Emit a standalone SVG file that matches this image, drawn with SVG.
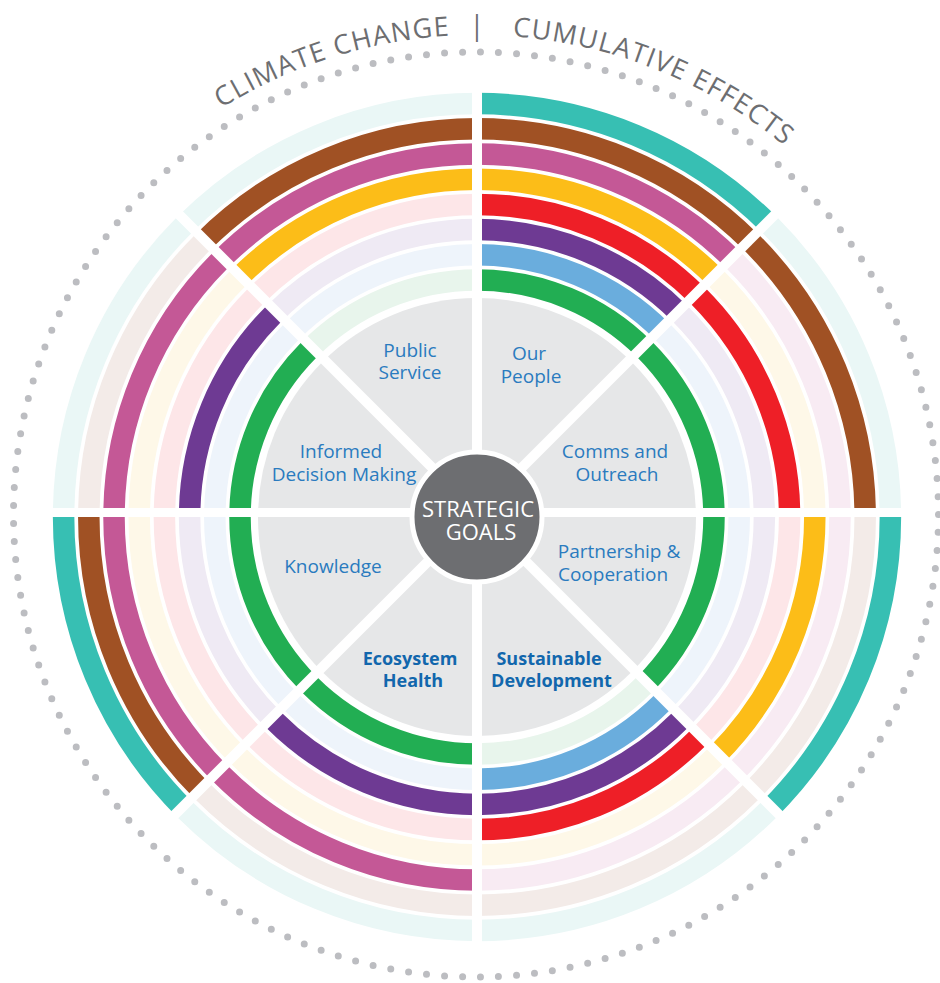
<svg xmlns="http://www.w3.org/2000/svg" width="940" height="983" viewBox="0 0 940 983">
<style>
.band{fill:none;stroke-width:21.5}
.g{stroke:#22ae53}.gp{stroke:#e8f5ec}
.b{stroke:#6aaddd}.bp{stroke:#eef4fb}
.pu{stroke:#6e3a93}.pup{stroke:#efeaf4}
.r{stroke:#ee1f27}.rp{stroke:#fde6e8}
.y{stroke:#fcbd18}.yp{stroke:#fef8e8}
.pk{stroke:#c45896}.pkp{stroke:#f8ebf3}
.br{stroke:#a05124}.brp{stroke:#f3ebe8}
.t{stroke:#37bfb3}.tp{stroke:#eaf7f6}
.wedge{fill:#e6e7e8}
.lbl{font-family:"Open Sans","Liberation Sans",sans-serif;font-size:19px;fill:#2a7bbf;text-anchor:middle}
.bold{font-weight:bold;font-size:18px;fill:#1267ad}
.title{font-family:"Open Sans","Liberation Sans",sans-serif;font-size:27px;fill:#6d6e71;letter-spacing:1.2px}
.gap{stroke:#fff;fill:none}
</style>
<defs>
<path id="arc" d="M59.6 276 A482 482 0 0 1 894.4 276"/>
</defs>
<rect width="940" height="983" fill="#fff"/>
<circle cx="476" cy="514.5" r="462.5" fill="none" stroke="#bcbdc1" stroke-width="7" stroke-linecap="round" pathLength="161" stroke-dasharray="0 1"/>
<g id="title">
<text class="title"><textPath href="#arc" startOffset="478" text-anchor="end">CLIMATE CHANGE</textPath></text>
<text class="title" x="477" y="35" text-anchor="middle" style="letter-spacing:0">|</text>
<text class="title"><textPath href="#arc" startOffset="540">CUMULATIVE EFFECTS</textPath></text>
</g>
<g id="sector-our-people">
<path class="wedge" d="M477 517 L477 298 A219 219 0 0 1 631.86 362.14 Z"/>
<path class="band g" d="M477 280 A237 237 0 0 1 644.59 349.41"/>
<path class="band b" d="M477 254.8 A262.2 262.2 0 0 1 662.4 331.6"/>
<path class="band pu" d="M477 229.6 A287.4 287.4 0 0 1 680.22 313.78"/>
<path class="band r" d="M477 204.4 A312.6 312.6 0 0 1 698.04 295.96"/>
<path class="band y" d="M477 179.2 A337.8 337.8 0 0 1 715.86 278.14"/>
<path class="band pk" d="M477 154 A363 363 0 0 1 733.68 260.32"/>
<path class="band br" d="M477 128.8 A388.2 388.2 0 0 1 751.5 242.5"/>
<path class="band t" d="M477 103.6 A413.4 413.4 0 0 1 769.32 224.68"/>
<text class="lbl"><tspan x="529" y="360">Our</tspan><tspan x="531" y="383">People</tspan></text>
</g>
<g id="sector-comms-outreach">
<path class="wedge" d="M477 517 L631.86 362.14 A219 219 0 0 1 696 517 Z"/>
<path class="band g" d="M644.59 349.41 A237 237 0 0 1 714 517"/>
<path class="band bp" d="M662.4 331.6 A262.2 262.2 0 0 1 739.2 517"/>
<path class="band pup" d="M680.22 313.78 A287.4 287.4 0 0 1 764.4 517"/>
<path class="band r" d="M698.04 295.96 A312.6 312.6 0 0 1 789.6 517"/>
<path class="band yp" d="M715.86 278.14 A337.8 337.8 0 0 1 814.8 517"/>
<path class="band pkp" d="M733.68 260.32 A363 363 0 0 1 840 517"/>
<path class="band br" d="M751.5 242.5 A388.2 388.2 0 0 1 865.2 517"/>
<path class="band tp" d="M769.32 224.68 A413.4 413.4 0 0 1 890.4 517"/>
<text class="lbl"><tspan x="615" y="458">Comms and</tspan><tspan x="617" y="481">Outreach</tspan></text>
</g>
<g id="sector-partnership">
<path class="wedge" d="M477 517 L696 517 A219 219 0 0 1 631.86 671.86 Z"/>
<path class="band g" d="M714 517 A237 237 0 0 1 644.59 684.59"/>
<path class="band bp" d="M739.2 517 A262.2 262.2 0 0 1 662.4 702.4"/>
<path class="band pup" d="M764.4 517 A287.4 287.4 0 0 1 680.22 720.22"/>
<path class="band rp" d="M789.6 517 A312.6 312.6 0 0 1 698.04 738.04"/>
<path class="band y" d="M814.8 517 A337.8 337.8 0 0 1 715.86 755.86"/>
<path class="band pkp" d="M840 517 A363 363 0 0 1 733.68 773.68"/>
<path class="band brp" d="M865.2 517 A388.2 388.2 0 0 1 751.5 791.5"/>
<path class="band t" d="M890.4 517 A413.4 413.4 0 0 1 769.32 809.32"/>
<text class="lbl"><tspan x="619" y="558">Partnership &amp;</tspan><tspan x="613" y="581">Cooperation</tspan></text>
</g>
<g id="sector-sustainable-development">
<path class="wedge" d="M477 517 L631.86 671.86 A219 219 0 0 1 477 736 Z"/>
<path class="band gp" d="M644.59 684.59 A237 237 0 0 1 477 754"/>
<path class="band b" d="M662.4 702.4 A262.2 262.2 0 0 1 477 779.2"/>
<path class="band pu" d="M680.22 720.22 A287.4 287.4 0 0 1 477 804.4"/>
<path class="band r" d="M698.04 738.04 A312.6 312.6 0 0 1 477 829.6"/>
<path class="band yp" d="M715.86 755.86 A337.8 337.8 0 0 1 477 854.8"/>
<path class="band pkp" d="M733.68 773.68 A363 363 0 0 1 477 880"/>
<path class="band brp" d="M751.5 791.5 A388.2 388.2 0 0 1 477 905.2"/>
<path class="band tp" d="M769.32 809.32 A413.4 413.4 0 0 1 477 930.4"/>
<text class="lbl bold"><tspan x="549" y="665">Sustainable</tspan><tspan x="551.5" y="687">Development</tspan></text>
</g>
<g id="sector-ecosystem-health">
<path class="wedge" d="M477 517 L477 736 A219 219 0 0 1 322.14 671.86 Z"/>
<path class="band g" d="M477 754 A237 237 0 0 1 309.41 684.59"/>
<path class="band bp" d="M477 779.2 A262.2 262.2 0 0 1 291.6 702.4"/>
<path class="band pu" d="M477 804.4 A287.4 287.4 0 0 1 273.78 720.22"/>
<path class="band rp" d="M477 829.6 A312.6 312.6 0 0 1 255.96 738.04"/>
<path class="band yp" d="M477 854.8 A337.8 337.8 0 0 1 238.14 755.86"/>
<path class="band pk" d="M477 880 A363 363 0 0 1 220.32 773.68"/>
<path class="band brp" d="M477 905.2 A388.2 388.2 0 0 1 202.5 791.5"/>
<path class="band tp" d="M477 930.4 A413.4 413.4 0 0 1 184.68 809.32"/>
<text class="lbl bold"><tspan x="410" y="665">Ecosystem</tspan><tspan x="413" y="687">Health</tspan></text>
</g>
<g id="sector-knowledge">
<path class="wedge" d="M477 517 L322.14 671.86 A219 219 0 0 1 258 517 Z"/>
<path class="band g" d="M309.41 684.59 A237 237 0 0 1 240 517"/>
<path class="band bp" d="M291.6 702.4 A262.2 262.2 0 0 1 214.8 517"/>
<path class="band pup" d="M273.78 720.22 A287.4 287.4 0 0 1 189.6 517"/>
<path class="band rp" d="M255.96 738.04 A312.6 312.6 0 0 1 164.4 517"/>
<path class="band yp" d="M238.14 755.86 A337.8 337.8 0 0 1 139.2 517"/>
<path class="band pk" d="M220.32 773.68 A363 363 0 0 1 114 517"/>
<path class="band br" d="M202.5 791.5 A388.2 388.2 0 0 1 88.8 517"/>
<path class="band t" d="M184.68 809.32 A413.4 413.4 0 0 1 63.6 517"/>
<text class="lbl" x="333" y="573">Knowledge</text>
</g>
<g id="sector-informed-decision-making">
<path class="wedge" d="M477 517 L258 517 A219 219 0 0 1 322.14 362.14 Z"/>
<path class="band g" d="M240 517 A237 237 0 0 1 309.41 349.41"/>
<path class="band bp" d="M214.8 517 A262.2 262.2 0 0 1 291.6 331.6"/>
<path class="band pu" d="M189.6 517 A287.4 287.4 0 0 1 273.78 313.78"/>
<path class="band rp" d="M164.4 517 A312.6 312.6 0 0 1 255.96 295.96"/>
<path class="band yp" d="M139.2 517 A337.8 337.8 0 0 1 238.14 278.14"/>
<path class="band pk" d="M114 517 A363 363 0 0 1 220.32 260.32"/>
<path class="band brp" d="M88.8 517 A388.2 388.2 0 0 1 202.5 242.5"/>
<path class="band tp" d="M63.6 517 A413.4 413.4 0 0 1 184.68 224.68"/>
<text class="lbl"><tspan x="341" y="458">Informed</tspan><tspan x="344" y="481">Decision Making</tspan></text>
</g>
<g id="sector-public-service">
<path class="wedge" d="M477 517 L322.14 362.14 A219 219 0 0 1 477 298 Z"/>
<path class="band gp" d="M309.41 349.41 A237 237 0 0 1 477 280"/>
<path class="band bp" d="M291.6 331.6 A262.2 262.2 0 0 1 477 254.8"/>
<path class="band pup" d="M273.78 313.78 A287.4 287.4 0 0 1 477 229.6"/>
<path class="band rp" d="M255.96 295.96 A312.6 312.6 0 0 1 477 204.4"/>
<path class="band y" d="M238.14 278.14 A337.8 337.8 0 0 1 477 179.2"/>
<path class="band pk" d="M220.32 260.32 A363 363 0 0 1 477 154"/>
<path class="band br" d="M202.5 242.5 A388.2 388.2 0 0 1 477 128.8"/>
<path class="band tp" d="M184.68 224.68 A413.4 413.4 0 0 1 477 103.6"/>
<text class="lbl"><tspan x="410" y="357">Public</tspan><tspan x="410" y="379">Service</tspan></text>
</g>
<g id="separators">
<line class="gap" x1="477" y1="80" x2="477" y2="955" stroke-width="10"/>
<line class="gap" x1="40" y1="512.5" x2="915" y2="512.5" stroke-width="9"/>
<line class="gap" x1="167" y1="822.5" x2="787" y2="202.5" stroke-width="10"/>
<line class="gap" x1="167" y1="202.5" x2="787" y2="822.5" stroke-width="10"/>
</g>
<g id="center">
<circle cx="477" cy="517" r="65" fill="#6d6e71" stroke="#fff" stroke-width="5"/>
<text font-family="'Open Sans','Liberation Sans',sans-serif" font-size="22" fill="#fff" text-anchor="middle"><tspan x="478" y="517">STRATEGIC</tspan><tspan x="481" y="540">GOALS</tspan></text>
</g>
</svg>
